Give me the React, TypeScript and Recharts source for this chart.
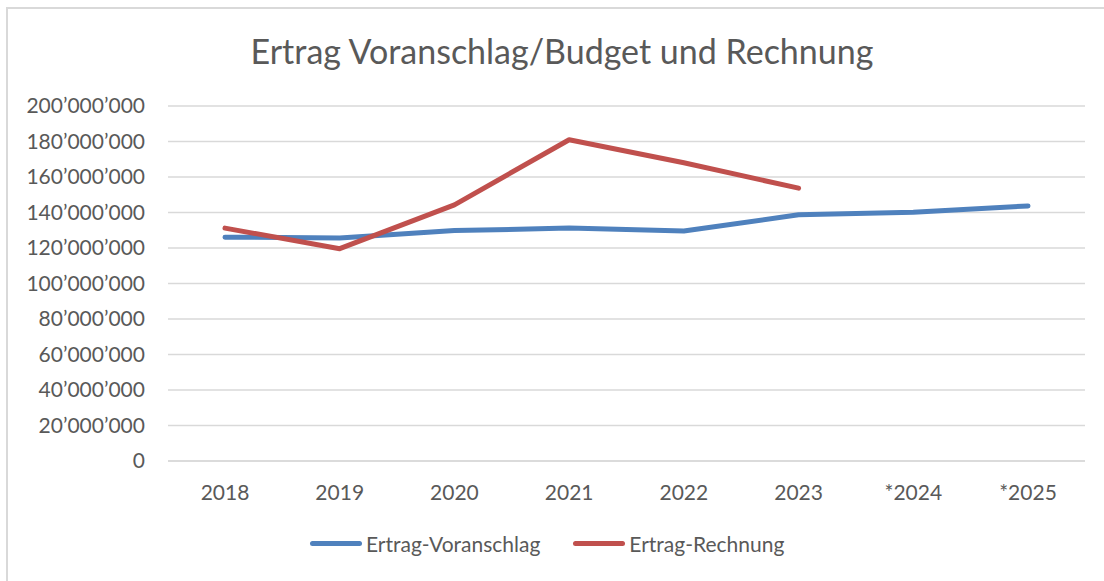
import React from 'react';
import { LineChart, Line, XAxis, YAxis, CartesianGrid } from 'recharts';

const years = ['2018', '2019', '2020', '2021', '2022', '2023', '*2024', '*2025'];
const voranschlag = [126100000, 125700000, 129800000, 131200000, 129600000, 138700000, 140200000, 143700000];
const rechnung = [131200000, 119600000, 144300000, 181000000, 168000000, 153700000, null, null];
const yTicks = [0, 20000000, 40000000, 60000000, 80000000, 100000000, 120000000, 140000000, 160000000, 180000000, 200000000];

const data = years.map((year, i) => ({
  year,
  voranschlag: voranschlag[i],
  rechnung: rechnung[i],
}));

const series = [
  { dataKey: 'voranschlag', name: 'Ertrag-Voranschlag', color: '#4f81bd' },
  { dataKey: 'rechnung', name: 'Ertrag-Rechnung', color: '#c0504d' },
];

const font = 'Lato, "Open Sans", sans-serif';
const textColor = '#595959';
const gridColor = '#d9d9d9';

const formatNumber = (v: number) =>
  String(v).replace(/\B(?=(\d{3})+(?!\d))/g, '\u2019');

// legend sits outside the svg so it doesn't shrink the plot area
const LegendBox = () => (
  <div style={{ position: 'absolute', left: 310, top: 531, display: 'flex', fontFamily: font, fontSize: 21, color: textColor }}>
    {series.map((s, i) => (
      <div key={s.dataKey} style={{ display: 'flex', alignItems: 'center', marginRight: i === 0 ? 33 : 0 }}>
        <span style={{ display: 'inline-block', width: 52, height: 5, borderRadius: 3, background: s.color, marginRight: 4 }} />
        <span>{s.name}</span>
      </div>
    ))}
  </div>
);

export default function App() {
  return (
    <div style={{ position: 'fixed', left: 0, top: 0, width: 1104, height: 581, background: '#fff', overflow: 'hidden' }}>
      <div style={{ position: 'absolute', left: 6, top: 7, width: 1200, height: 700, border: `2px solid ${gridColor}` }} />
      <div style={{ position: 'absolute', left: 0, top: 30, width: 1124, textAlign: 'center', fontFamily: font, fontSize: 34, color: textColor }}>
        Ertrag Voranschlag/Budget und Rechnung
      </div>
      <LineChart
        width={1104}
        height={581}
        data={data}
        margin={{ top: 106, right: 19, left: 0, bottom: 60 }}
        style={{ position: 'absolute', left: 0, top: 0 }}
      >
        <CartesianGrid vertical={false} stroke={gridColor} strokeWidth={1.5} />
        <XAxis
          dataKey="year"
          height={60}
          padding={{ left: 57, right: 57 }}
          axisLine={{ stroke: gridColor, strokeWidth: 1.5 }}
          tickLine={false}
          tickMargin={18}
          tick={{ fill: textColor, fontFamily: font, fontSize: 21 }}
        />
        <YAxis
          width={168}
          domain={[0, 200000000]}
          ticks={yTicks}
          interval={0}
          axisLine={false}
          tickLine={false}
          tickSize={0}
          tickMargin={23}
          tickFormatter={formatNumber}
          tick={{ fill: textColor, fontFamily: font, fontSize: 21 }}
        />
        {series.map((s) => (
          <Line
            key={s.dataKey}
            type="linear"
            dataKey={s.dataKey}
            name={s.name}
            stroke={s.color}
            strokeWidth={5}
            strokeLinecap="round"
            strokeLinejoin="round"
            dot={false}
            activeDot={false}
            connectNulls={false}
            isAnimationActive={false}
          />
        ))}
      </LineChart>
      <LegendBox />
    </div>
  );
}
